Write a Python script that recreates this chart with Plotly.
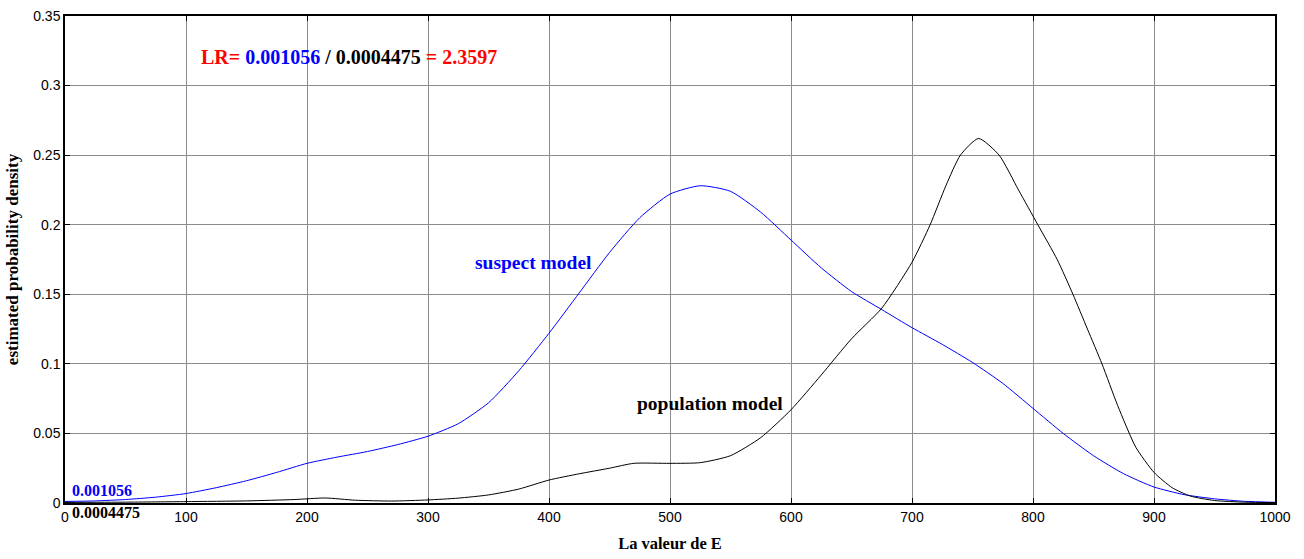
import plotly.graph_objects as go

x_suspect = [0, 25, 50, 75, 100, 125, 150, 175, 200, 225, 250, 275, 300, 325, 350, 375, 400, 425, 450, 475, 500, 525, 550, 575, 600, 625, 650, 675, 700, 725, 750, 775, 800, 825, 850, 875, 900, 925, 950, 975, 1000]
y_suspect = [0.0011, 0.0015, 0.0025, 0.0042, 0.0068, 0.011, 0.016, 0.022, 0.0285, 0.033, 0.037, 0.042, 0.048, 0.057, 0.072, 0.095, 0.122, 0.151, 0.18, 0.205, 0.222, 0.228, 0.224, 0.209, 0.189, 0.169, 0.152, 0.139, 0.126, 0.114, 0.101, 0.086, 0.068, 0.05, 0.034, 0.021, 0.0115, 0.006, 0.003, 0.0012, 0.0005]

x_population = [0, 50, 100, 150, 190, 215, 240, 270, 300, 325, 350, 375, 400, 425, 450, 470, 500, 525, 550, 575, 600, 625, 650, 675, 700, 715, 728, 740, 755, 772, 788, 804, 820, 833, 845, 857, 870, 885, 900, 915, 930, 950, 975, 1000]
y_population = [0.0004, 0.0006, 0.001, 0.0015, 0.0025, 0.0036, 0.002, 0.0014, 0.0022, 0.0035, 0.0058, 0.01, 0.0165, 0.021, 0.025, 0.0285, 0.0285, 0.029, 0.034, 0.047, 0.067, 0.092, 0.118, 0.14, 0.173, 0.2, 0.228, 0.25, 0.262, 0.25, 0.225, 0.2, 0.175, 0.15, 0.125, 0.1, 0.07, 0.04, 0.022, 0.011, 0.005, 0.0018, 0.0006, 0.0003]

x_ticks = [0, 100, 200, 300, 400, 500, 600, 700, 800, 900, 1000]
y_ticks = [0, 0.05, 0.1, 0.15, 0.2, 0.25, 0.3, 0.35]
y_tick_labels = ["0", "0.05", "0.1", "0.15", "0.2", "0.25", "0.3", "0.35"]

fig = go.Figure()
fig.add_trace(go.Scatter(x=x_suspect, y=y_suspect, mode="lines",
                         line=dict(color="#0000ff", width=1, shape="spline", smoothing=0.6),
                         name="suspect model", showlegend=False))
fig.add_trace(go.Scatter(x=x_population, y=y_population, mode="lines",
                         line=dict(color="#000000", width=1, shape="spline", smoothing=0.6),
                         name="population model", showlegend=False))

serif = "Liberation Serif"
fig.add_annotation(x=111, y=0.3205, xanchor="left", yanchor="middle", showarrow=False,
                   text="<b><span style='color:#ff0000'>LR= </span><span style='color:#0000ff'>0.001056</span>"
                        "<span style='color:#000000'> / 0.0004475 </span><span style='color:#ff0000'>= 2.3597</span></b>",
                   font=dict(family=serif, size=20))
fig.add_annotation(x=337, y=0.1727, xanchor="left", yanchor="middle", showarrow=False,
                   text="<b>suspect model</b>", font=dict(family=serif, size=19.5, color="#0000ff"))
fig.add_annotation(x=471, y=0.0716, xanchor="left", yanchor="middle", showarrow=False,
                   text="<b>population model</b>", font=dict(family=serif, size=19.5, color="#000000"))
fig.add_annotation(x=4.5, y=0.0088, xanchor="left", yanchor="middle", showarrow=False,
                   text="<b>0.001056</b>", font=dict(family=serif, size=16, color="#0000ff"))
fig.add_annotation(x=4.5, xref="x", y=-0.0199, yref="paper", xanchor="left", yanchor="middle", showarrow=False,
                   text="<b>0.0004475</b>", font=dict(family=serif, size=16, color="#000000"))

axis_common = dict(showgrid=True, gridcolor="#8c8c8c", gridwidth=1, showline=True, linecolor="#000000",
                   linewidth=1.5, mirror="ticks", ticks="inside", ticklen=5, tickcolor="#000000",
                   zeroline=False, automargin=False,
                   tickfont=dict(family="Liberation Sans", size=14, color="#000000"))

fig.update_xaxes(range=[0, 1000], tickvals=x_ticks, ticktext=[str(v) for v in x_ticks],
                 title=dict(text="<b>La valeur de E</b>", font=dict(family=serif, size=16.5, color="#000000"), standoff=14),
                 **axis_common)
fig.update_yaxes(range=[0, 0.35], tickvals=y_ticks, ticktext=y_tick_labels,
                 title=dict(text="<b>estimated probability density</b>", font=dict(family=serif, size=17, color="#000000"), standoff=10),
                 **axis_common)

fig.update_layout(width=1304, height=559, margin=dict(l=65, r=29, t=16, b=56, autoexpand=False),
                  plot_bgcolor="#ffffff", paper_bgcolor="#ffffff")

fig.write_html("out.html")
